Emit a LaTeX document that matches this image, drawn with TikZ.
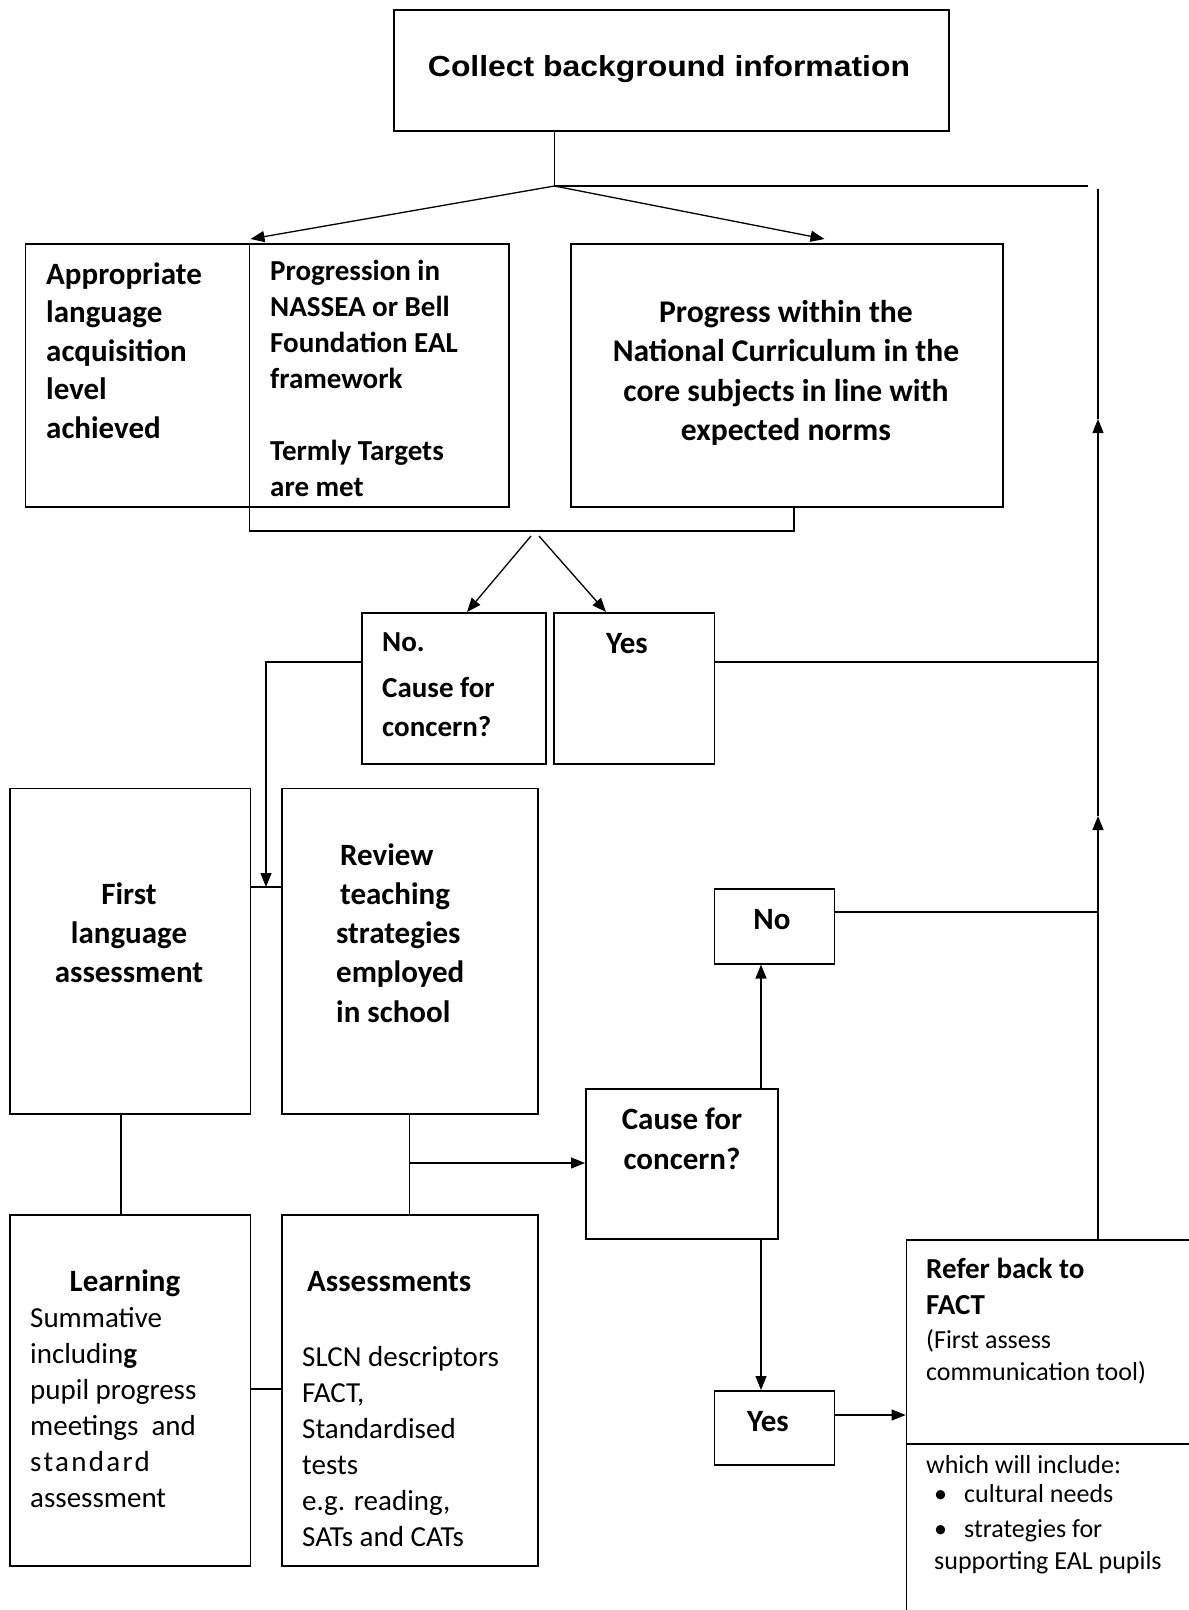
\documentclass[tikz,border=0pt]{standalone}
\usepackage{fontspec}
\setmainfont{Carlito}
\newfontfamily\arialf[FakeStretch=1.1]{Liberation Sans}
\usetikzlibrary{arrows.meta}
\begin{document}
\begin{tikzpicture}[x=1pt,y=-1pt,
  box/.style={draw, line width=1.6pt, inner sep=0pt, anchor=north west},
  conn/.style={line width=1.3pt},
  arr/.style={conn, -{Triangle[length=14pt,width=11pt]}},
  bl/.style={inner sep=0pt, anchor=base west, align=left, font=\bfseries\fontsize{31}{38.5}\selectfont},
  bls/.style={inner sep=0pt, anchor=base west, align=left, font=\bfseries\fontsize{29}{36}\selectfont},
  bc/.style={inner sep=0pt, anchor=base, align=center, font=\bfseries\fontsize{31}{39.5}\selectfont},
  rl/.style={inner sep=0pt, anchor=base west, align=left, font=\fontsize{29}{36}\selectfont},
  fl/.style={inner sep=0pt, anchor=base west, align=left, font=\fontsize{26}{32}\selectfont}
]
\useasboundingbox (0,0) rectangle (1189,1610);

% boxes
\node[box, minimum width=555, minimum height=121] (top) at (393,9) {};
\node[box, minimum width=483.4, minimum height=263] (boxa) at (24.6,243) {};
\node[box, minimum width=432, minimum height=263] (prog) at (570,243) {};
\node[box, minimum width=183.6, minimum height=151] (no1) at (361.4,612) {};
\node[box, minimum width=160.6, minimum height=151] (yes1) at (553,612) {};
\node[box, minimum width=240.3, minimum height=325.5] (first) at (9.2,787.5) {};
\node[box, minimum width=256, minimum height=325.5] (review) at (281,787.5) {};
\node[box, minimum width=120.1, minimum height=75] (no2) at (713.6,888) {};
\node[box, minimum width=192, minimum height=150] (cf) at (585,1088) {};
\node[box, minimum width=240.3, minimum height=351] (learn) at (9.2,1214) {};
\node[box, minimum width=256, minimum height=351] (assess) at (281,1214) {};
\node[box, minimum width=120.1, minimum height=74] (yes2) at (713.6,1390) {};
\node[box, minimum width=330, minimum height=420] (fact) at (905.6,1239) {};

% bracket of second top-left box
\coordinate (br1) at (249.5,243);
\coordinate (br2) at (249.5,531);
\coordinate (br3) at (793.7,531);
\coordinate (br4) at (793.7,506);
\draw[line width=1.6pt] (br1) -- (br2) -- (br3) -- (br4);
% divider in FACT box
\coordinate (fd) at (1200,1444);
\draw[line width=1.6pt] (fact.west |- fd) -- (fd);

% texts (base anchor = baseline of last line)
\node[inner sep=0pt, font=\arialf\bfseries\fontsize{29}{34}\selectfont] (ttop) at (669,69) {Collect background information};
\node[bl] (ta) at (46,438) {Appropriate\\language\\acquisition\\level\\achieved};
\node[bls] (tpr) at (270,496) {Progression in\\NASSEA or Bell\\Foundation EAL\\framework\\[36pt]Termly Targets\\are met};
\node[bc, font=\bfseries\fontsize{31.6}{39.5}\selectfont] (tpw) at (786,440.5) {Progress within the\\National Curriculum in the\\core subjects in line with\\expected norms};
\node[bls] (tno1) at (382,651) {No.};
\node[inner sep=0pt, anchor=base west, align=left, font=\bfseries\fontsize{29}{39}\selectfont] (tcf1) at (382,736) {Cause for\\concern?};
\node[bc] (tyes1) at (627,653) {Yes};
\node[bc, font=\bfseries\fontsize{31}{39}\selectfont] (tfirst) at (129,982) {First\\language\\assessment};
\node[bl, font=\bfseries\fontsize{31}{39.2}\selectfont] (trev) at (336,1022) {\hspace{4pt}Review\\\hspace{4pt}teaching\\strategies\\employed\\in school};
\node[bc] (tno2) at (772,929) {No};
\node[bc, font=\bfseries\fontsize{31}{40}\selectfont] (tcf2) at (682,1169) {Cause for\\concern?};
\node[bc] (tlearn) at (125,1291.5) {Learning};
\node[rl] (tlearn2) at (30,1507) {Summative\\includin\textbf{g}\\pupil progress\\meetings\ \ and\\{\addfontfeature{LetterSpace=8}standard}\\assessment};
\node[bl] (tass) at (307,1291.5) {Assessments};
\node[rl] (tass2) at (302,1546) {SLCN descriptors\\FACT,\\Standardised\\tests\\e.g. reading,\\SATs and CATs};
\node[bc] (tyes2) at (768,1431) {Yes};
\node[bls] (tfact) at (926,1314) {Refer back to\\FACT};
\node[fl] (tfact2) at (926,1380) {(First assess\\communication tool)};
\node[fl] (tfact3) at (926,1473) {which will include:};
\node[fl] (tb1) at (934,1502) {\textbullet};
\node[fl] (tb1t) at (964,1502) {cultural needs};
\node[fl] (tb2) at (934,1537) {\textbullet};
\node[fl] (tb2t) at (964,1537) {strategies for};
\node[fl] (tb3) at (934,1569) {supporting EAL pupils};

% connectors from top
\coordinate (jt) at (554.5,186);
\coordinate (rh) at (1088,186);
\coordinate (al) at (250.5,239);
\coordinate (ar) at (824.5,239);
\draw[conn] (top.south -| jt) -- (jt) -- (rh);
\draw[arr] (jt) -- (al);
\draw[arr] (jt) -- (ar);

% to No./Yes
\coordinate (s1) at (531,536);
\coordinate (e1) at (467,612);
\coordinate (s2) at (539,536);
\coordinate (e2) at (606,612);
\draw[arr] (s1) -- (e1);
\draw[arr] (s2) -- (e2);

% right vertical
\coordinate (rv) at (1098,189);
\coordinate (ra1) at (1098,816);
\coordinate (ra2) at (1098,419);
\draw[arr] (rv |- fact.north) -- (ra1);
\draw[arr] (ra1) -- (ra2);
\draw[conn] (ra2) -- (rv);

% Yes1 to right vertical
\coordinate (y1) at (713.6,662);
\draw[conn] (y1) -- (y1 -| rv);
% No. box to first/review
\coordinate (n1) at (361.4,662);
\coordinate (j1) at (266,887);
\draw[arr] (n1) -| (j1);
\draw[conn] (first.east |- j1) -- (review.west |- j1);

% No (mid) to right vertical
\coordinate (n2) at (833.7,912);
\draw[conn] (n2) -- (n2 -| rv);

% cause for concern vertical
\coordinate (ca) at (761,1100);
\draw[arr] (cf.north -| ca) -- (no2.south -| ca);
\draw[arr] (cf.south -| ca) -- (yes2.north -| ca);

% yes2 to fact
\coordinate (yf) at (833.7,1415);
\draw[arr] (yf) -- (fact.west |- yf);

% review / first down
\coordinate (fx) at (121,1150);
\draw[conn] (first.south -| fx) -- (learn.north -| fx);
\draw[conn] (review.south) -- (assess.north);
\coordinate (rc) at (409,1163);
\draw[arr] (rc) -- (cf.west |- rc);
\coordinate (la) at (249.5,1389);
\draw[conn] (la) -- (assess.west |- la);
\end{tikzpicture}
\end{document}
